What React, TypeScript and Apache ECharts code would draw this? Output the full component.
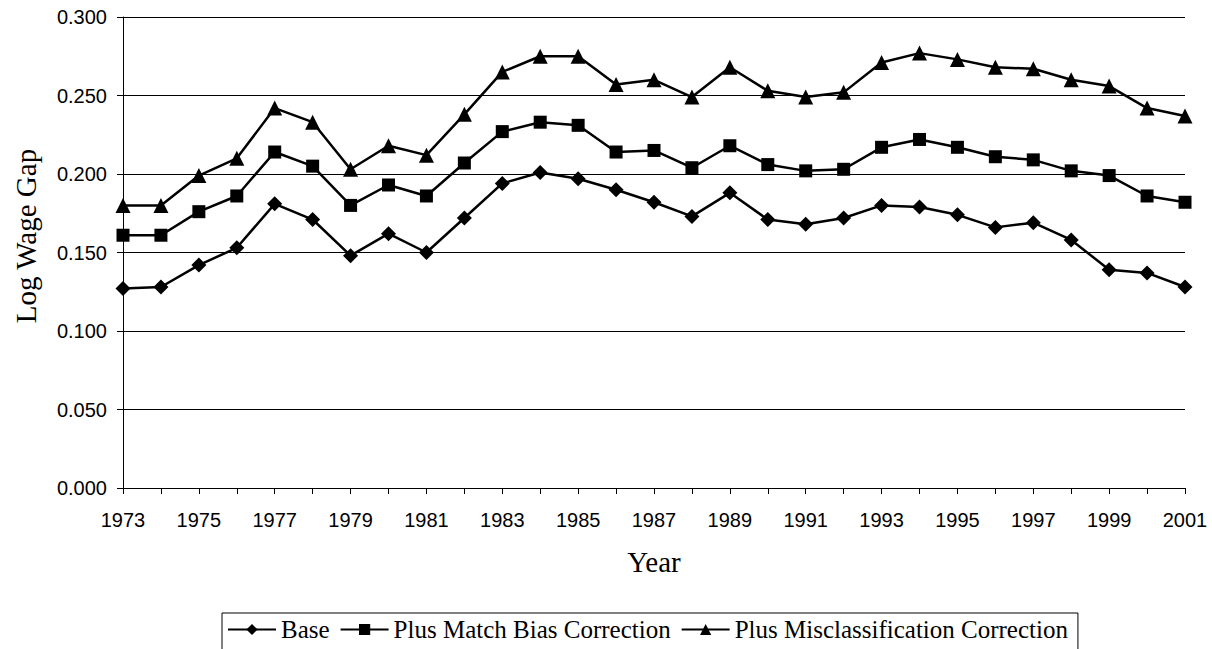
import React, { useEffect, useRef } from "react";
import * as echarts from "echarts";

const years = ["1973","1974","1975","1976","1977","1978","1979","1980","1981","1982","1983","1984","1985","1986","1987","1988","1989","1990","1991","1992","1993","1994","1995","1996","1997","1998","1999","2000","2001"];
const base = [0.127,0.128,0.142,0.153,0.181,0.171,0.148,0.162,0.150,0.172,0.194,0.201,0.197,0.190,0.182,0.173,0.188,0.171,0.168,0.172,0.180,0.179,0.174,0.166,0.169,0.158,0.139,0.137,0.128];
const matchBias = [0.161,0.161,0.176,0.186,0.214,0.205,0.180,0.193,0.186,0.207,0.227,0.233,0.231,0.214,0.215,0.204,0.218,0.206,0.202,0.203,0.217,0.222,0.217,0.211,0.209,0.202,0.199,0.186,0.182];
const misclass = [0.180,0.180,0.199,0.210,0.242,0.233,0.203,0.218,0.212,0.238,0.265,0.275,0.275,0.257,0.260,0.249,0.268,0.253,0.249,0.252,0.271,0.277,0.273,0.268,0.267,0.260,0.256,0.242,0.237];
const seriesNames = ["Base", "Plus Match Bias Correction", "Plus Misclassification Correction"];
const yAxisTitle = "Log Wage Gap";
const xAxisTitle = "Year";

export default function App() {
  const ref = useRef<HTMLDivElement>(null);
  useEffect(() => {
    if (!ref.current) return;
    const chart = echarts.init(ref.current, null, { renderer: "svg" });
    const mk = (name: string, data: number[], symbol: string, size: number) => ({
      name,
      type: "line",
      data,
      symbol,
      symbolSize: size,
      showAllSymbol: true,
      lineStyle: { color: "#000", width: 2.5 },
      itemStyle: { color: "#000" },
    });
    chart.setOption({
      animation: false,
      grid: { left: 123, right: 27, top: 17, bottom: 161, containLabel: false, outerBoundsMode: "none" },
      graphic: [
        {
          type: "text",
          x: 26,
          y: 236,
          rotation: Math.PI / 2,
          style: {
            text: yAxisTitle,
            fontFamily: "Liberation Serif",
            fontSize: 29,
            fill: "#000",
            textAlign: "center",
            textVerticalAlign: "middle",
          },
        },
      ],
      xAxis: {
        type: "category",
        data: years,
        boundaryGap: false,
        name: xAxisTitle,
        nameLocation: "middle",
        nameGap: 59,
        nameTextStyle: { fontFamily: "Liberation Serif", fontSize: 29, color: "#000" },
        axisLine: { lineStyle: { color: "#000", width: 1 } },
        axisTick: { show: true, interval: 0, length: 6, lineStyle: { color: "#000" } },
        axisLabel: {
          interval: 1,
          fontFamily: "Liberation Sans",
          fontSize: 20,
          color: "#000",
          margin: 22,
        },
        splitLine: { show: false },
      },
      yAxis: {
        type: "value",
        min: 0,
        max: 0.3,
        interval: 0.05,
        axisLine: { show: true, lineStyle: { color: "#000", width: 1 } },
        axisTick: { show: true, length: 6, lineStyle: { color: "#000" } },
        axisLabel: {
          formatter: (v: number) => v.toFixed(3),
          fontFamily: "Liberation Sans",
          fontSize: 20,
          color: "#000",
          margin: 16,
        },
        splitLine: { show: true, lineStyle: { color: "#000", width: 1 } },
      },
      legend: {
        data: seriesNames,
        top: 613,
        left: 222,
        padding: [4, 10, 14, 5],
        itemGap: 10,
        itemWidth: 48,
        itemHeight: 14,
        borderColor: "#000",
        borderWidth: 1,
        textStyle: { fontFamily: "Liberation Serif", fontSize: 25, color: "#000" },
      },
      series: [
        mk(seriesNames[0], base, "diamond", 15),
        mk(seriesNames[1], matchBias, "rect", 13),
        mk(seriesNames[2], misclass, "triangle", 15),
      ],
    });
    return () => chart.dispose();
  }, []);
  return <div ref={ref} style={{ width: 1212, height: 649, position: "absolute", left: 0, top: 0, background: "#fff" }} />;
}
